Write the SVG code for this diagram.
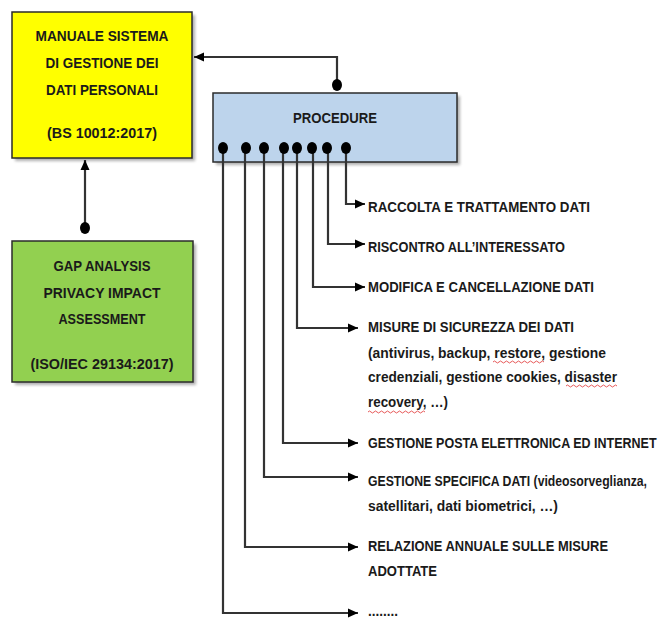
<svg xmlns="http://www.w3.org/2000/svg" width="670" height="618" viewBox="0 0 670 618">
<style>
.box{stroke:#2b2b2b;stroke-width:1.5}
.shadow{fill:#7a7a7a;opacity:0.6}
.t{font-family:"Liberation Sans",Arial,sans-serif;font-weight:bold;fill:#1a1a1a}
.c{text-anchor:middle;font-size:15.5px}
.r{font-size:15px}
.ln{fill:none;stroke:#333;stroke-width:2.2}
.dot{fill:#000}
.sq{fill:none;stroke:#e03030;stroke-width:0.8}
</style>
<defs>
<marker id="ah" viewBox="0 0 10 10" refX="10" refY="5" markerWidth="10" markerHeight="10" markerUnits="userSpaceOnUse" orient="auto">
<path d="M0,0.5 L10,5 L0,9.5 Z" fill="#000"/>
</marker>
<filter id="blur" x="-10%" y="-10%" width="130%" height="130%"><feGaussianBlur stdDeviation="1.5"/></filter>
</defs>
<rect width="670" height="618" fill="#fff"/>

<g id="manuale">
<rect class="shadow" x="15" y="15" width="180" height="146" filter="url(#blur)"/>
<rect class="box" x="12" y="12" width="180" height="146" fill="#ffff00"/>
<text class="t c" x="102" y="41" textLength="133" lengthAdjust="spacingAndGlyphs">MANUALE SISTEMA</text>
<text class="t c" x="102" y="68" textLength="113" lengthAdjust="spacingAndGlyphs">DI GESTIONE DEI</text>
<text class="t c" x="102" y="95" textLength="112" lengthAdjust="spacingAndGlyphs">DATI PERSONALI</text>
<text class="t c" x="102" y="138" textLength="110" lengthAdjust="spacingAndGlyphs">(BS 10012:2017)</text>
</g>

<g id="gap">
<rect class="shadow" x="15" y="244" width="181" height="141" filter="url(#blur)"/>
<rect class="box" x="12" y="241" width="181" height="141" fill="#92d050"/>
<text class="t c" x="102" y="271" textLength="97" lengthAdjust="spacingAndGlyphs">GAP ANALYSIS</text>
<text class="t c" x="102" y="298" textLength="117" lengthAdjust="spacingAndGlyphs">PRIVACY IMPACT</text>
<text class="t c" x="102" y="324" textLength="87" lengthAdjust="spacingAndGlyphs">ASSESSMENT</text>
<text class="t c" x="102" y="369" textLength="143" lengthAdjust="spacingAndGlyphs">(ISO/IEC 29134:2017)</text>
</g>

<g id="procedure">
<rect class="shadow" x="216" y="96" width="244" height="69" filter="url(#blur)"/>
<rect class="box" x="213" y="93" width="244" height="69" fill="#bdd4ec"/>
<text class="t c" x="335" y="123" textLength="84" lengthAdjust="spacingAndGlyphs">PROCEDURE</text>
</g>

<g id="connectors">
<path class="ln" d="M85,228 L85,160" marker-end="url(#ah)"/>
<ellipse class="dot" cx="85" cy="228" rx="5" ry="6"/>
<path class="ln" d="M337,85 L337,57 L194,57" marker-end="url(#ah)"/>
<ellipse class="dot" cx="337" cy="85" rx="5" ry="6"/>

<path class="ln" d="M346,148 L346,204 L365,204" marker-end="url(#ah)"/>
<path class="ln" d="M328,148 L328,244 L365,244" marker-end="url(#ah)"/>
<path class="ln" d="M313,148 L313,287 L365,287" marker-end="url(#ah)"/>
<path class="ln" d="M297,148 L297,328 L358,328" marker-end="url(#ah)"/>
<path class="ln" d="M283,148 L283,443 L358,443" marker-end="url(#ah)"/>
<path class="ln" d="M264,148 L264,477 L358,477" marker-end="url(#ah)"/>
<path class="ln" d="M245,148 L245,547 L358,547" marker-end="url(#ah)"/>
<path class="ln" d="M223,148 L223,613 L358,613" marker-end="url(#ah)"/>
<ellipse class="dot" cx="223" cy="148" rx="5" ry="6"/>
<ellipse class="dot" cx="246" cy="148" rx="5" ry="6"/>
<ellipse class="dot" cx="264" cy="148" rx="5" ry="6"/>
<ellipse class="dot" cx="284" cy="148" rx="5" ry="6"/>
<ellipse class="dot" cx="297" cy="148" rx="5" ry="6"/>
<ellipse class="dot" cx="312" cy="148" rx="5" ry="6"/>
<ellipse class="dot" cx="327" cy="148" rx="5" ry="6"/>
<ellipse class="dot" cx="346" cy="148" rx="5" ry="6"/>
</g>

<g id="labels">
<text class="t r" x="368" y="212" textLength="222" lengthAdjust="spacingAndGlyphs">RACCOLTA E TRATTAMENTO DATI</text>
<text class="t r" x="368" y="252" textLength="197" lengthAdjust="spacingAndGlyphs">RISCONTRO ALL’INTERESSATO</text>
<text class="t r" x="368" y="292" textLength="226" lengthAdjust="spacingAndGlyphs">MODIFICA E CANCELLAZIONE DATI</text>
<text class="t r" x="368" y="332" textLength="206" lengthAdjust="spacingAndGlyphs">MISURE DI SICUREZZA DEI DATI</text>
<text class="t r" x="368" y="358" textLength="238" lengthAdjust="spacingAndGlyphs">(antivirus, backup,  restore, gestione</text>
<text class="t r" x="368" y="382" textLength="249" lengthAdjust="spacingAndGlyphs">credenziali, gestione cookies, disaster</text>
<text class="t r" x="368" y="407" textLength="80" lengthAdjust="spacingAndGlyphs">recovery, …)</text>
<text class="t r" transform="translate(368,448) scale(0.835,1)" x="0" y="0">GESTIONE POSTA ELETTRONICA ED INTERNET</text>
<text class="t r" transform="translate(368,486) scale(0.815,1)" x="0" y="0">GESTIONE SPECIFICA DATI (videosorveglianza,</text>
<text class="t r" x="368" y="511" textLength="190" lengthAdjust="spacingAndGlyphs">satellitari, dati biometrici, …)</text>
<text class="t r" x="368" y="551" textLength="240" lengthAdjust="spacingAndGlyphs">RELAZIONE ANNUALE SULLE MISURE</text>
<text class="t r" x="368" y="576" textLength="69" lengthAdjust="spacingAndGlyphs">ADOTTATE</text>
<text class="t r" x="368" y="616" textLength="30" lengthAdjust="spacingAndGlyphs">........</text>
<path class="sq" d="M493,362 q1.5,-2 3,0 t3,0 t3,0 t3,0 t3,0 t3,0 t3,0 t3,0 t3,0 t3,0 t3,0 t3,0 t3,0 t3,0 t3,0 t3,0 t3,0"/>
<path class="sq" d="M566,386 q1.5,-2 3,0 t3,0 t3,0 t3,0 t3,0 t3,0 t3,0 t3,0 t3,0 t3,0 t3,0 t3,0 t3,0 t3,0 t3,0 t3,0 t3,0"/>
<path class="sq" d="M368,412 q1.5,-2 3,0 t3,0 t3,0 t3,0 t3,0 t3,0 t3,0 t3,0 t3,0 t3,0 t3,0 t3,0 t3,0 t3,0 t3,0 t3,0 t3,0 t3,0 t3,0"/>
</g>
</svg>
